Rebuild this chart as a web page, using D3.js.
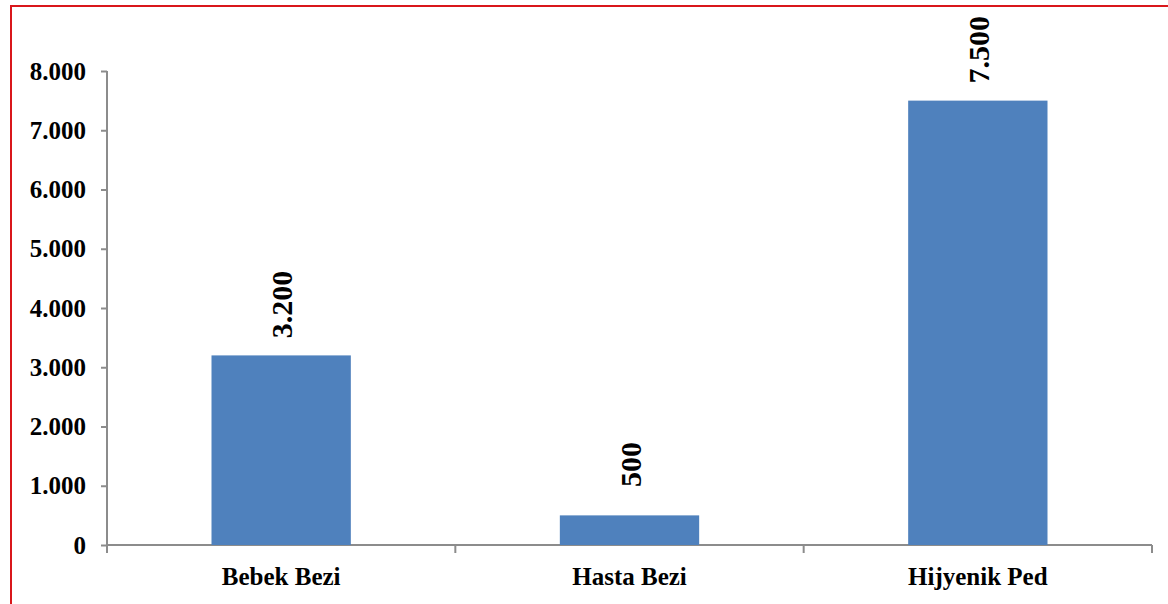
<!DOCTYPE html>
<html>
<head>
<meta charset="utf-8">
<script src="https://cdn.jsdelivr.net/npm/d3@7"></script>
<style>
  html, body { margin: 0; padding: 0; background: #fff; }
  svg { display: block; }
  text { font-family: "Liberation Serif", "Times New Roman", serif; font-weight: bold; fill: #000; }
</style>
</head>
<body>
<script>
const categories = ["Bebek Bezi", "Hasta Bezi", "Hijyenik Ped"];
const values = [3200, 500, 7500];
const yTicks = [0, 1000, 2000, 3000, 4000, 5000, 6000, 7000, 8000];

(function () {
const W = 1168, H = 604;
const svg = d3.select("body").append("svg").attr("width", W).attr("height", H);

// outer chart border
svg.append("rect")
  .attr("x", 11).attr("y", 6)
  .attr("width", W + 20).attr("height", H + 20)
  .attr("fill", "#fff")
  .attr("stroke", "#d9171b").attr("stroke-width", 2);

const pLeft = 107, pRight = 1152, pTop = 71, pBottom = 545;

const fmt = v => d3.format(",")(v).replace(/,/g, ".");

const x = d3.scaleBand().domain(categories).range([pLeft, pRight]).paddingInner(0.6).paddingOuter(0.3);
const y = d3.scaleLinear().domain([0, 8000]).range([pBottom, pTop]);

const axisColor = "#8c8c8c";

// y axis
const yAxis = svg.append("g").attr("transform", `translate(${pLeft},0)`)
  .call(d3.axisLeft(y).tickValues(yTicks).tickSize(6).tickSizeOuter(0).tickPadding(15).tickFormat(fmt));
yAxis.select(".domain").attr("stroke", axisColor).attr("stroke-width", 2)
  .attr("d", `M0,${pTop}V${pBottom + 8}`);
yAxis.selectAll(".tick line").attr("stroke", axisColor).attr("stroke-width", 2);
yAxis.selectAll(".tick text").style("font-size", "25px").style("font-family", "'Liberation Serif','Times New Roman',serif").style("font-weight", "bold").attr("fill", "#000");

// x axis (ticks at category boundaries)
const xAxisG = svg.append("g").attr("transform", `translate(0,${pBottom})`);
xAxisG.append("line").attr("x1", pLeft).attr("x2", pRight).attr("y1", 0).attr("y2", 0)
  .attr("stroke", axisColor).attr("stroke-width", 2);
const step = (pRight - pLeft) / categories.length;
const boundaries = d3.range(categories.length + 1).map(i => pLeft + i * step);
xAxisG.selectAll("line.tk").data(boundaries).enter().append("line").attr("class", "tk")
  .attr("x1", d => d).attr("x2", d => d).attr("y1", 0).attr("y2", 8)
  .attr("stroke", axisColor).attr("stroke-width", 2);
xAxisG.selectAll("text.cat").data(categories).enter().append("text").attr("class", "cat")
  .attr("x", d => x(d) + x.bandwidth() / 2)
  .attr("y", 40)
  .attr("text-anchor", "middle")
  .style("font-size", "25px")
  .text(d => d);

// bars
svg.selectAll("rect.bar").data(values).enter().append("rect").attr("class", "bar")
  .attr("x", (d, i) => x(categories[i]))
  .attr("width", x.bandwidth())
  .attr("y", d => y(d))
  .attr("height", d => pBottom - y(d))
  .attr("fill", "#4f81bd");

// data labels (rotated)
svg.selectAll("text.lbl").data(values).enter().append("text").attr("class", "lbl")
  .attr("transform", (d, i) => `translate(${x(categories[i]) + x.bandwidth() / 2 + 11},${y(d) - 51}) rotate(-90)`)
  .attr("text-anchor", "middle")
  .style("font-size", "30px")
  .text(d => fmt(d));
})();
</script>
</body>
</html>
